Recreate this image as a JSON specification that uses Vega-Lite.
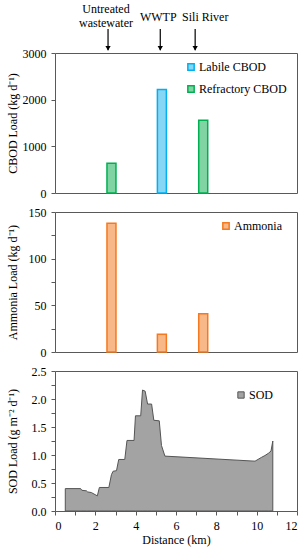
{
  "$schema": "https://vega.github.io/schema/vega-lite/v6.json",
  "padding": {"left": 5, "top": 2, "right": 5, "bottom": 4},
  "spacing": 5,
  "resolve": {
    "scale": {"fill": "independent", "stroke": "independent"},
    "legend": {"fill": "independent", "stroke": "independent"}
  },
  "config": {
    "font": "Liberation Serif",
    "view": {"stroke": "#595959", "strokeWidth": 1},
    "axis": {
      "labelFont": "Liberation Serif", "labelFontSize": 12, "labelColor": "#000",
      "titleFont": "Liberation Serif", "titleFontSize": 12, "titleFontWeight": "normal", "titleColor": "#000",
      "grid": false, "domain": false, "tickColor": "#595959", "tickSize": 4, "labelPadding": 5
    },
    "axisY": {"minExtent": 34, "maxExtent": 34, "titlePadding": 2, "labelFont": "Liberation Serif"},
    "axisX": {"labelFont": "Liberation Serif"},
    "legend": {
      "labelFont": "Liberation Serif", "labelFontSize": 12, "labelColor": "#000",
      "symbolType": "square", "symbolSize": 40, "symbolStrokeWidth": 1.5, "rowPadding": 8, "labelOffset": 2
    }
  },
  "datasets": {
    "cbod": [
      {"distance": 2.8, "type": "Refractory CBOD", "load": 640},
      {"distance": 5.3, "type": "Labile CBOD", "load": 2220},
      {"distance": 7.35, "type": "Refractory CBOD", "load": 1560}
    ],
    "ammonia": [
      {"distance": 2.8, "species": "Ammonia", "load": 138},
      {"distance": 5.3, "species": "Ammonia", "load": 19},
      {"distance": 7.35, "species": "Ammonia", "load": 41}
    ],
    "sites": [
      {"site": "Untreated\nwastewater", "arrow_km": 2.63, "label_km": 2.53, "lines": 2},
      {"site": "WWTP", "arrow_km": 5.22, "label_km": 5.12, "lines": 1},
      {"site": "Sili River", "arrow_km": 6.95, "label_km": 7.45, "lines": 1}
    ],
    "sod": [
      {"distance": 0.51, "sod": 0.40},
      {"distance": 1.27, "sod": 0.40},
      {"distance": 1.33, "sod": 0.37},
      {"distance": 1.56, "sod": 0.36},
      {"distance": 1.62, "sod": 0.34},
      {"distance": 1.80, "sod": 0.33},
      {"distance": 2.10, "sod": 0.27},
      {"distance": 2.20, "sod": 0.42},
      {"distance": 2.67, "sod": 0.42},
      {"distance": 2.80, "sod": 0.65},
      {"distance": 2.88, "sod": 0.71},
      {"distance": 3.05, "sod": 0.72},
      {"distance": 3.16, "sod": 0.92},
      {"distance": 3.46, "sod": 0.92},
      {"distance": 3.57, "sod": 1.26},
      {"distance": 3.92, "sod": 1.26},
      {"distance": 3.99, "sod": 1.70},
      {"distance": 4.25, "sod": 1.70},
      {"distance": 4.34, "sod": 2.16},
      {"distance": 4.47, "sod": 2.14},
      {"distance": 4.59, "sod": 1.91},
      {"distance": 4.79, "sod": 1.91},
      {"distance": 4.90, "sod": 1.62},
      {"distance": 5.17, "sod": 1.61},
      {"distance": 5.28, "sod": 1.17},
      {"distance": 5.45, "sod": 0.98},
      {"distance": 9.92, "sod": 0.89},
      {"distance": 10.25, "sod": 0.96},
      {"distance": 10.41, "sod": 0.99},
      {"distance": 10.58, "sod": 1.03},
      {"distance": 10.71, "sod": 1.07},
      {"distance": 10.80, "sod": 1.25}
    ]
  },
  "vconcat": [
    {
      "width": 242, "height": 140,
      "layer": [
        {
          "data": {"name": "cbod"},
          "mark": {"type": "bar", "width": 9, "strokeWidth": 1.5},
          "encoding": {
            "x": {"field": "distance", "type": "quantitative", "scale": {"domain": [0, 12], "padding": 0, "nice": false}, "axis": null},
            "y": {"field": "load", "type": "quantitative", "scale": {"domain": [0, 3000]},
                  "axis": {"values": [0, 500, 1000, 1500, 2000, 2500, 3000], "format": "d", "title": "CBOD Load  (kg d⁻¹)", "labelFont": "Liberation Serif"}},
            "fill": {"field": "type", "type": "nominal",
                     "scale": {"domain": ["Labile CBOD", "Refractory CBOD"], "range": ["#86d6f5", "#80d4a4"]},
                     "legend": {"title": null, "orient": "none", "legendX": 130, "legendY": 8}},
            "stroke": {"field": "type", "type": "nominal",
                       "scale": {"domain": ["Labile CBOD", "Refractory CBOD"], "range": ["#00B0F0", "#00B050"]},
                       "legend": {"title": null, "orient": "none", "legendX": 130, "legendY": 8}}
          }
        },
        {
          "data": {"name": "sites"},
          "mark": {"type": "rule", "color": "#000", "strokeWidth": 1.2},
          "encoding": {
            "x": {"field": "arrow_km", "type": "quantitative"},
            "y": {"datum": 3514},
            "y2": {"datum": 3060}
          }
        },
        {
          "data": {"name": "sites"},
          "mark": {"type": "point", "shape": "triangle-down", "filled": true, "color": "#000", "size": 28, "opacity": 1},
          "encoding": {
            "x": {"field": "arrow_km", "type": "quantitative"},
            "y": {"datum": 3100}
          }
        },
        {
          "data": {"name": "sites"},
          "transform": [{"filter": "datum.lines === 1"}],
          "mark": {"type": "text", "fontSize": 12, "baseline": "middle", "align": "center", "color": "#000", "font": "Liberation Serif"},
          "encoding": {
            "x": {"field": "label_km", "type": "quantitative"},
            "y": {"datum": 3771},
            "text": {"field": "site"}
          }
        },
        {
          "data": {"name": "sites"},
          "transform": [{"filter": "datum.lines === 2"}],
          "mark": {"type": "text", "lineBreak": "\n", "lineHeight": 14, "fontSize": 12, "baseline": "middle", "align": "center", "color": "#000", "font": "Liberation Serif"},
          "encoding": {
            "x": {"field": "label_km", "type": "quantitative"},
            "y": {"datum": 3943},
            "text": {"field": "site"}
          }
        }
      ]
    },
    {
      "width": 242, "height": 140,
      "data": {"name": "ammonia"},
      "mark": {"type": "bar", "width": 9, "strokeWidth": 1.5},
      "encoding": {
        "x": {"field": "distance", "type": "quantitative", "scale": {"domain": [0, 12], "padding": 0, "nice": false}, "axis": null},
        "y": {"field": "load", "type": "quantitative", "scale": {"domain": [0, 150]},
              "axis": {"values": [0, 25, 50, 75, 100, 125, 150], "labelExpr": "datum.value % 50 === 0 ? datum.label : ''", "title": "Ammonia Load  (kg d⁻¹)", "labelFont": "Liberation Serif"}},
        "fill": {"field": "species", "type": "nominal", "scale": {"range": ["#f8b888"]},
                 "legend": {"title": null, "orient": "none", "legendX": 165, "legendY": 8}},
        "stroke": {"field": "species", "type": "nominal", "scale": {"range": ["#F47920"]},
                   "legend": {"title": null, "orient": "none", "legendX": 165, "legendY": 8}}
      }
    },
    {
      "width": 242, "height": 140,
      "data": {"name": "sod"},
      "mark": {"type": "area", "stroke": "#555", "strokeWidth": 1, "interpolate": "linear"},
      "encoding": {
        "x": {"field": "distance", "type": "quantitative", "scale": {"domain": [0, 12], "nice": false},
              "axis": {"values": [0, 1, 2, 3, 4, 5, 6, 7, 8, 9, 10, 11, 12], "labelExpr": "datum.value % 2 === 0 ? datum.label : ''", "title": "Distance (km)", "titlePadding": 3, "labelFont": "Liberation Serif"}},
        "y": {"field": "sod", "type": "quantitative", "scale": {"domain": [0, 2.5]},
              "axis": {"values": [0, 0.25, 0.5, 0.75, 1, 1.25, 1.5, 1.75, 2, 2.25, 2.5], "labelExpr": "(datum.value * 2) % 1 === 0 ? datum.label : ''", "title": "SOD Load  (g m⁻² d⁻¹)", "labelFont": "Liberation Serif"}},
        "fill": {"datum": "SOD", "type": "nominal", "scale": {"range": ["#a3a3a3"]},
                 "legend": {"title": null, "orient": "none", "legendX": 180, "legendY": 18, "symbolStrokeColor": "#555", "symbolStrokeWidth": 1}}
      }
    }
  ]
}
